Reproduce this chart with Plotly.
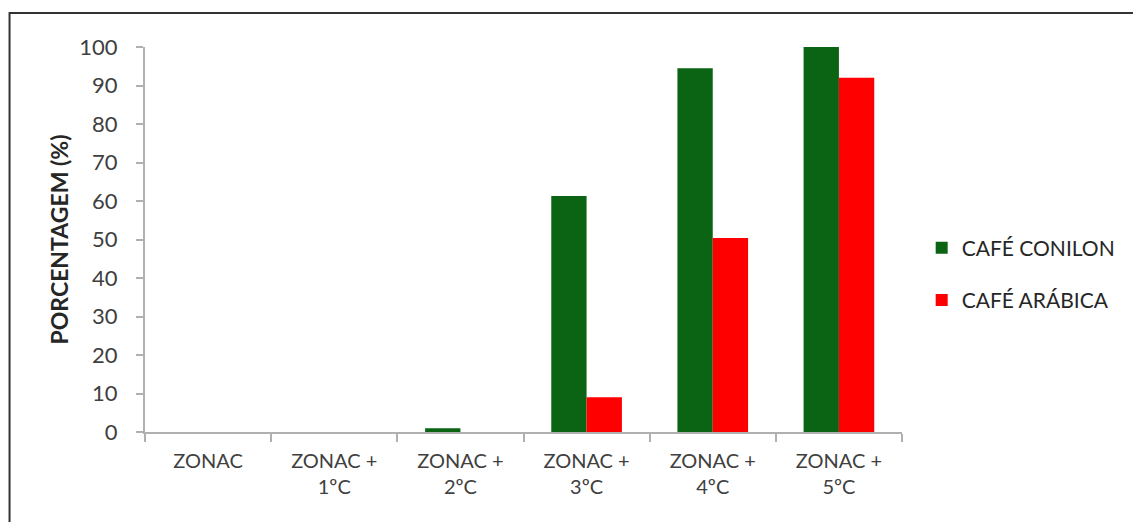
import plotly.graph_objects as go

categories = ["ZONAC", "ZONAC +<br>1ºC", "ZONAC +<br>2ºC", "ZONAC +<br>3ºC", "ZONAC +<br>4ºC", "ZONAC +<br>5ºC"]
conilon = [0, 0, 1, 61.3, 94.5, 100]
arabica = [0, 0, 0, 9, 50.4, 92]

fig = go.Figure()

fig.add_trace(
    go.Bar(
        x=categories,
        y=conilon,
        name="CAFÉ CONILON",
        legendgroup="a",
        marker=dict(color="#0b6413", line=dict(width=0)),
    )
)
fig.add_trace(
    go.Bar(
        x=categories,
        y=arabica,
        name="CAFÉ ARÁBICA",
        legendgroup="b",
        marker=dict(color="#fe0000", line=dict(width=0)),
    )
)

# page body adds 8px, so figure coords = picture coords - 8
L, T, PW, PH = 137, 39, 760, 385

# outer frame (left/top edges visible, the rest runs off the picture)
fig.add_shape(
    type="rect",
    xref="paper",
    yref="paper",
    x0=(1 - L) / PW,
    x1=(1160 - L) / PW,
    y0=-0.4,
    y1=(T + PH - 5) / PH,
    line=dict(color="#333333", width=2),
)

fig.update_layout(
    width=1125,
    height=514,
    margin=dict(l=L, r=1125 - L - PW, t=T, b=514 - T - PH),
    plot_bgcolor="white",
    paper_bgcolor="white",
    font=dict(family="Lato, Open Sans, sans-serif", color="#404040"),
    barmode="group",
    bargap=0.44,
    bargroupgap=0,
    xaxis=dict(
        showline=True,
        linecolor="#b0b0b0",
        linewidth=2,
        ticks="outside",
        tickson="boundaries",
        ticklen=8,
        tickcolor="#b0b0b0",
        tickwidth=2,
        tickfont=dict(size=20),
        ticklabelstandoff=10,
        showgrid=False,
        fixedrange=True,
    ),
    yaxis=dict(
        range=[0, 100],
        dtick=10,
        showline=True,
        linecolor="#b0b0b0",
        linewidth=2,
        ticks="outside",
        ticklen=7,
        tickcolor="#b0b0b0",
        tickwidth=2,
        tickfont=dict(size=22),
        ticklabelstandoff=14,
        showgrid=False,
        zeroline=False,
        title=dict(
            text="<b>PORCENTAGEM (%)</b>",
            font=dict(size=23, color="#262626"),
            standoff=4,
        ),
    ),
    legend=dict(
        x=1.026,
        y=0.41,
        xanchor="left",
        yanchor="middle",
        font=dict(size=21, color="#262626"),
        tracegroupgap=22,
        itemwidth=30,
    ),
    showlegend=True,
)

fig.write_html("out.html")
